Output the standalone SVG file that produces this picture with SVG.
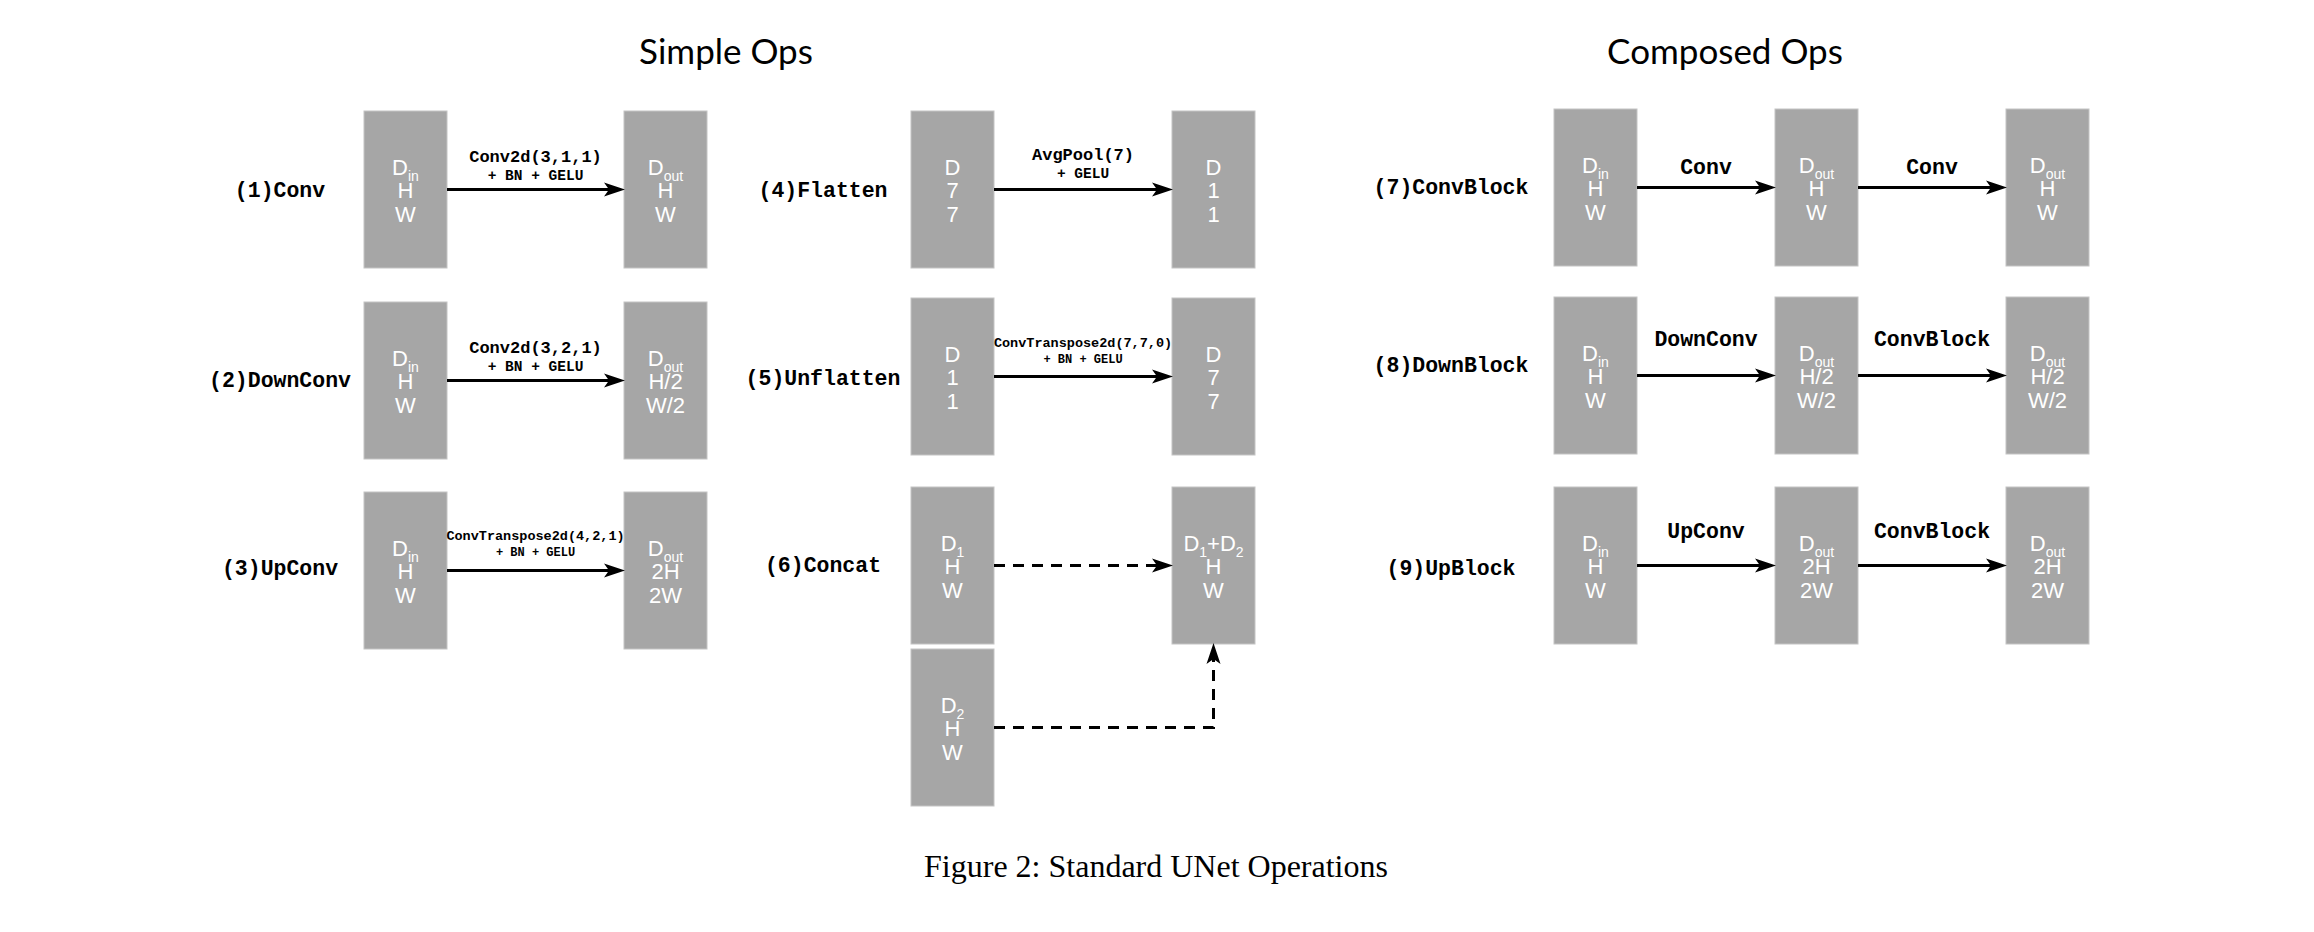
<svg xmlns="http://www.w3.org/2000/svg" width="2314" height="932" viewBox="0 0 2314 932">
<style>
.bg{fill:#ffffff}
.box{fill:#a6a6a6;stroke:#c4c4c4;stroke-width:1}
.bt{font-family:"Liberation Sans",Arial,sans-serif;font-size:22px;fill:#ffffff;text-anchor:middle}
.sub{font-size:14px}
.lbl{font-family:"Liberation Mono","Courier New",monospace;font-weight:bold;font-size:21.5px;text-anchor:middle;fill:#000}
.op1{font-family:"Liberation Mono","Courier New",monospace;font-weight:bold;font-size:17px;text-anchor:middle;fill:#000}
.op2{font-family:"Liberation Mono","Courier New",monospace;font-weight:bold;font-size:14.5px;text-anchor:middle;fill:#000}
.opS1{font-family:"Liberation Mono","Courier New",monospace;font-weight:bold;font-size:13.5px;text-anchor:middle;fill:#000}
.opS2{font-family:"Liberation Mono","Courier New",monospace;font-weight:bold;font-size:12px;text-anchor:middle;fill:#000}
.opC{font-family:"Liberation Mono","Courier New",monospace;font-weight:bold;font-size:21.5px;text-anchor:middle;fill:#000}
.edge{stroke:#000;stroke-width:3;fill:none}
.dash{stroke-dasharray:11 8}
.title{font-family:Lato,"Noto Sans",sans-serif;font-size:35px;text-anchor:middle;fill:#000}
.cap{font-family:"Liberation Serif","Times New Roman",serif;font-size:32px;text-anchor:middle;fill:#000}
</style>
<defs>
<marker id="arr" markerUnits="userSpaceOnUse" markerWidth="23" markerHeight="16" refX="5" refY="7" orient="auto" overflow="visible">
<path d="M0,0 L21,7 L0,14 L5,7 Z" fill="#000"/>
</marker>
</defs>
<rect class="bg" x="0" y="0" width="2314" height="932"/>

<g id="titles">
<text class="title" x="726" y="64">Simple Ops</text>
<text class="title" x="1725" y="64">Composed Ops</text>
<text class="cap" x="1156" y="877">Figure 2: Standard UNet Operations</text>
</g>

<g id="row-labels">
<text class="lbl" x="280" y="197">(1)Conv</text>
<text class="lbl" x="280" y="387">(2)DownConv</text>
<text class="lbl" x="280" y="575">(3)UpConv</text>
<text class="lbl" x="823" y="197">(4)Flatten</text>
<text class="lbl" x="823" y="385">(5)Unflatten</text>
<text class="lbl" x="823" y="572">(6)Concat</text>
<text class="lbl" x="1451" y="194">(7)ConvBlock</text>
<text class="lbl" x="1451" y="372">(8)DownBlock</text>
<text class="lbl" x="1451" y="575">(9)UpBlock</text>
</g>

<!-- Simple ops column A -->
<g id="conv-in"><rect class="box" x="364" y="111" width="83" height="157"/>
<text class="bt" x="405.5" y="175">D<tspan class="sub" dy="6">in</tspan></text>
<text class="bt" x="405.5" y="198">H</text><text class="bt" x="405.5" y="222">W</text></g>
<g id="conv-out"><rect class="box" x="624" y="111" width="83" height="157"/>
<text class="bt" x="665.5" y="175">D<tspan class="sub" dy="6">out</tspan></text>
<text class="bt" x="665.5" y="198">H</text><text class="bt" x="665.5" y="222">W</text></g>

<g id="downconv-in"><rect class="box" x="364" y="302" width="83" height="157"/>
<text class="bt" x="405.5" y="366">D<tspan class="sub" dy="6">in</tspan></text>
<text class="bt" x="405.5" y="389">H</text><text class="bt" x="405.5" y="413">W</text></g>
<g id="downconv-out"><rect class="box" x="624" y="302" width="83" height="157"/>
<text class="bt" x="665.5" y="366">D<tspan class="sub" dy="6">out</tspan></text>
<text class="bt" x="665.5" y="389">H/2</text><text class="bt" x="665.5" y="413">W/2</text></g>

<g id="upconv-in"><rect class="box" x="364" y="492" width="83" height="157"/>
<text class="bt" x="405.5" y="556">D<tspan class="sub" dy="6">in</tspan></text>
<text class="bt" x="405.5" y="579">H</text><text class="bt" x="405.5" y="603">W</text></g>
<g id="upconv-out"><rect class="box" x="624" y="492" width="83" height="157"/>
<text class="bt" x="665.5" y="556">D<tspan class="sub" dy="6">out</tspan></text>
<text class="bt" x="665.5" y="579">2H</text><text class="bt" x="665.5" y="603">2W</text></g>

<!-- Simple ops column B -->
<g id="flatten-in"><rect class="box" x="911" y="111" width="83" height="157"/>
<text class="bt" x="952.5" y="175">D</text><text class="bt" x="952.5" y="198">7</text><text class="bt" x="952.5" y="222">7</text></g>
<g id="flatten-out"><rect class="box" x="1172" y="111" width="83" height="157"/>
<text class="bt" x="1213.5" y="175">D</text><text class="bt" x="1213.5" y="198">1</text><text class="bt" x="1213.5" y="222">1</text></g>

<g id="unflatten-in"><rect class="box" x="911" y="298" width="83" height="157"/>
<text class="bt" x="952.5" y="362">D</text><text class="bt" x="952.5" y="385">1</text><text class="bt" x="952.5" y="409">1</text></g>
<g id="unflatten-out"><rect class="box" x="1172" y="298" width="83" height="157"/>
<text class="bt" x="1213.5" y="362">D</text><text class="bt" x="1213.5" y="385">7</text><text class="bt" x="1213.5" y="409">7</text></g>

<g id="concat-in1"><rect class="box" x="911" y="487" width="83" height="157"/>
<text class="bt" x="952.5" y="551">D<tspan class="sub" dy="6">1</tspan></text>
<text class="bt" x="952.5" y="574">H</text><text class="bt" x="952.5" y="598">W</text></g>
<g id="concat-in2"><rect class="box" x="911" y="649" width="83" height="157"/>
<text class="bt" x="952.5" y="713">D<tspan class="sub" dy="6">2</tspan></text>
<text class="bt" x="952.5" y="736">H</text><text class="bt" x="952.5" y="760">W</text></g>
<g id="concat-out"><rect class="box" x="1172" y="487" width="83" height="157"/>
<text class="bt" x="1213.5" y="551">D<tspan class="sub" dy="6">1</tspan><tspan dy="-6">+D</tspan><tspan class="sub" dy="6">2</tspan></text>
<text class="bt" x="1213.5" y="574">H</text><text class="bt" x="1213.5" y="598">W</text></g>

<!-- Composed ops column C -->
<g id="convblock-in"><rect class="box" x="1554" y="109" width="83" height="157"/>
<text class="bt" x="1595.5" y="173">D<tspan class="sub" dy="6">in</tspan></text>
<text class="bt" x="1595.5" y="196">H</text><text class="bt" x="1595.5" y="220">W</text></g>
<g id="convblock-mid"><rect class="box" x="1775" y="109" width="83" height="157"/>
<text class="bt" x="1816.5" y="173">D<tspan class="sub" dy="6">out</tspan></text>
<text class="bt" x="1816.5" y="196">H</text><text class="bt" x="1816.5" y="220">W</text></g>
<g id="convblock-out"><rect class="box" x="2006" y="109" width="83" height="157"/>
<text class="bt" x="2047.5" y="173">D<tspan class="sub" dy="6">out</tspan></text>
<text class="bt" x="2047.5" y="196">H</text><text class="bt" x="2047.5" y="220">W</text></g>

<g id="downblock-in"><rect class="box" x="1554" y="297" width="83" height="157"/>
<text class="bt" x="1595.5" y="361">D<tspan class="sub" dy="6">in</tspan></text>
<text class="bt" x="1595.5" y="384">H</text><text class="bt" x="1595.5" y="408">W</text></g>
<g id="downblock-mid"><rect class="box" x="1775" y="297" width="83" height="157"/>
<text class="bt" x="1816.5" y="361">D<tspan class="sub" dy="6">out</tspan></text>
<text class="bt" x="1816.5" y="384">H/2</text><text class="bt" x="1816.5" y="408">W/2</text></g>
<g id="downblock-out"><rect class="box" x="2006" y="297" width="83" height="157"/>
<text class="bt" x="2047.5" y="361">D<tspan class="sub" dy="6">out</tspan></text>
<text class="bt" x="2047.5" y="384">H/2</text><text class="bt" x="2047.5" y="408">W/2</text></g>

<g id="upblock-in"><rect class="box" x="1554" y="487" width="83" height="157"/>
<text class="bt" x="1595.5" y="551">D<tspan class="sub" dy="6">in</tspan></text>
<text class="bt" x="1595.5" y="574">H</text><text class="bt" x="1595.5" y="598">W</text></g>
<g id="upblock-mid"><rect class="box" x="1775" y="487" width="83" height="157"/>
<text class="bt" x="1816.5" y="551">D<tspan class="sub" dy="6">out</tspan></text>
<text class="bt" x="1816.5" y="574">2H</text><text class="bt" x="1816.5" y="598">2W</text></g>
<g id="upblock-out"><rect class="box" x="2006" y="487" width="83" height="157"/>
<text class="bt" x="2047.5" y="551">D<tspan class="sub" dy="6">out</tspan></text>
<text class="bt" x="2047.5" y="574">2H</text><text class="bt" x="2047.5" y="598">2W</text></g>

<g id="connectors">
<path class="edge" d="M447,189.5 H609" marker-end="url(#arr)"/>
<path class="edge" d="M447,380.5 H609" marker-end="url(#arr)"/>
<path class="edge" d="M447,570.5 H609" marker-end="url(#arr)"/>
<path class="edge" d="M994,189.5 H1157" marker-end="url(#arr)"/>
<path class="edge" d="M994,376.5 H1157" marker-end="url(#arr)"/>
<path class="edge dash" d="M994,565.5 H1157" marker-end="url(#arr)"/>
<path class="edge dash" d="M994,727.5 H1213.5 V659" marker-end="url(#arr)"/>
<path class="edge" d="M1637,187.5 H1760" marker-end="url(#arr)"/>
<path class="edge" d="M1858,187.5 H1991" marker-end="url(#arr)"/>
<path class="edge" d="M1637,375.5 H1760" marker-end="url(#arr)"/>
<path class="edge" d="M1858,375.5 H1991" marker-end="url(#arr)"/>
<path class="edge" d="M1637,565.5 H1760" marker-end="url(#arr)"/>
<path class="edge" d="M1858,565.5 H1991" marker-end="url(#arr)"/>
</g>

<g id="connector-labels">
<text class="op1" x="535.5" y="162">Conv2d(3,1,1)</text>
<text class="op2" x="535.5" y="180">+ BN + GELU</text>
<text class="op1" x="535.5" y="353">Conv2d(3,2,1)</text>
<text class="op2" x="535.5" y="371">+ BN + GELU</text>
<text class="opS1" x="535.5" y="540">ConvTranspose2d(4,2,1)</text>
<text class="opS2" x="535.5" y="556">+ BN + GELU</text>
<text class="op1" x="1083" y="160">AvgPool(7)</text>
<text class="op2" x="1083" y="178">+ GELU</text>
<text class="opS1" x="1083" y="347">ConvTranspose2d(7,7,0)</text>
<text class="opS2" x="1083" y="363">+ BN + GELU</text>
<text class="opC" x="1706" y="174">Conv</text>
<text class="opC" x="1932" y="174">Conv</text>
<text class="opC" x="1706" y="346">DownConv</text>
<text class="opC" x="1932" y="346">ConvBlock</text>
<text class="opC" x="1706" y="538">UpConv</text>
<text class="opC" x="1932" y="538">ConvBlock</text>
</g>
</svg>
